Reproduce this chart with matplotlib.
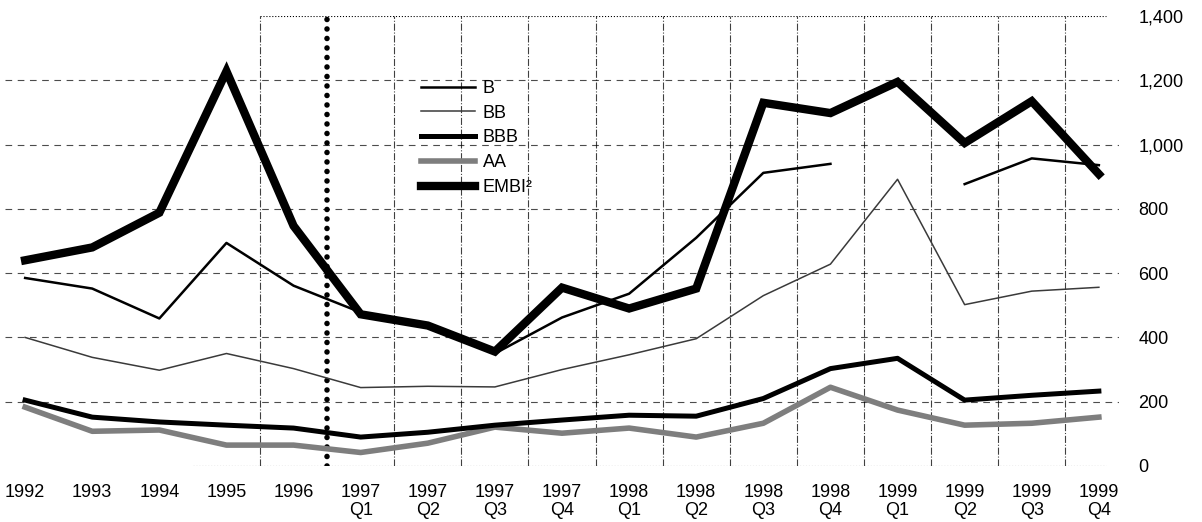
import matplotlib
matplotlib.use("Agg")
import matplotlib.pyplot as plt
import numpy as np

plt.rcParams['font.family'] = ['Liberation Sans', 'DejaVu Sans']

# categories (annual, then quarterly)
labels = ['1992', '1993', '1994', '1995', '1996',
          '1997\nQ1', '1997\nQ2', '1997\nQ3', '1997\nQ4',
          '1998\nQ1', '1998\nQ2', '1998\nQ3', '1998\nQ4',
          '1999\nQ1', '1999\nQ2', '1999\nQ3', '1999\nQ4']

# spreads, basis points
b = [585, 552, 459, 694, 561, 478, 440, 350, 462, 536, 710, 912, 940,
     np.nan, 877, 957, 936]
bb = [400, 338, 298, 350, 303, 244, 248, 246, 300, 346, 396, 530, 628,
      892, 502, 544, 556]
bbb = [205, 152, 137, 127, 118, 90, 105, 127, 143, 158, 155, 210, 303,
       335, 205, 220, 233]
aa = [183, 108, 112, 65, 65, 42, 71, 121, 102, 118, 90, 133, 245,
      174, 127, 133, 152]
embi = [640, 680, 788, 1228, 747, 472, 437, 356, 555, 490, 552, 1130, 1098,
        1195, 1005, 1135, 908]

yticks = [0, 200, 400, 600, 800, 1000, 1200, 1400]

x = np.arange(len(labels))

fig = plt.figure(figsize=(12.02, 5.22), dpi=100)
ax = fig.add_axes([5 / 1202, 56 / 522, 1114 / 1202, 450 / 522])

# grid
for v in yticks[1:-1]:
    ax.axhline(v, color='black', lw=0.8, ls=(0, (6, 5)), alpha=0.7, zorder=1)
ax.plot([3.5, 16.1], [1400, 1400], color='black', lw=0.8, ls=':', zorder=1)
ax.plot([2.5, 16.1], [0, 0], color='black', lw=0.8, ls=':', zorder=1)
for xv in np.arange(3.5, 16, 1.0):
    if xv == 4.5:
        continue
    ax.axvline(xv, color='black', lw=0.8, ls='-.', alpha=0.75, zorder=1)
ax.plot([4.5, 4.5], [0, 1390], color='black', lw=4.0,
        ls=(0, (0.01, 1.7)), dash_capstyle='round', zorder=2)

l_aa, = ax.plot(x, aa, color='#7e7e7e', lw=4.0, label='AA', zorder=3)
l_bbb, = ax.plot(x, bbb, color='black', lw=3.6, label='BBB', zorder=4)
l_bb, = ax.plot(x, bb, color='#3a3a3a', lw=1.1, label='BB', zorder=4)
l_b, = ax.plot(x, b, color='black', lw=1.8, label='B', zorder=5)
l_embi, = ax.plot(x, embi, color='black', lw=6.0, label='EMBI²', zorder=6,
                  solid_joinstyle='miter')

ax.legend(handles=[l_b, l_bb, l_bbb, l_aa, l_embi],
          labels=['B', 'BB', 'BBB', 'AA', 'EMBI²'],
          loc='upper left', bbox_to_anchor=(0.365, 0.878), frameon=False,
          fontsize=13, handlelength=3.0, handletextpad=0.45,
          labelspacing=0.43, borderpad=0)

ax.set_xlim(-0.3, 16.3)
ax.set_ylim(0, 1400)
ax.set_xticks(x)
ax.set_xticklabels(labels, fontsize=13, linespacing=1.1)
ax.yaxis.tick_right()
ax.set_yticks(yticks)
ax.set_yticklabels([f'{v:,}' for v in yticks], fontsize=13)
ax.tick_params(axis='both', length=0)
ax.tick_params(axis='y', pad=14)
ax.tick_params(axis='x', pad=13)
for s in ax.spines.values():
    s.set_visible(False)

fig.savefig('out.png', dpi=100)
